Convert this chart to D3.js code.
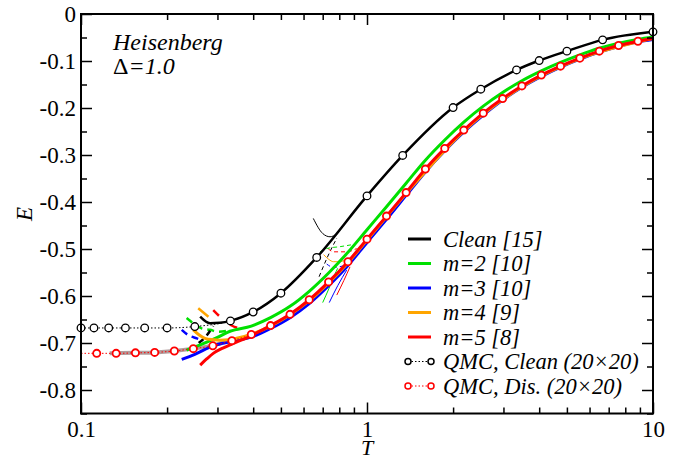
<!DOCTYPE html>
<html>
<head>
<meta charset="utf-8">
<script src="https://cdn.jsdelivr.net/npm/d3@7"></script>
<style>
  body { margin: 0; background: #fff; }
  svg text { font-family: "Liberation Serif", "Times New Roman", serif; fill: #000; }
  .tick text { font-size: 23px; }
  .it { font-style: italic; }
</style>
</head>
<body>
<div class="chart"></div>
<script>
// tick labels
var xMajor = [0.1, 1, 10];
var xMinor = [0.2, 0.3, 0.4, 0.5, 0.6, 0.7, 0.8, 0.9, 2, 3, 4, 5, 6, 7, 8, 9];
var yMajor = [0, -0.1, -0.2, -0.3, -0.4, -0.5, -0.6, -0.7, -0.8];
var yMinor = [-0.05, -0.15, -0.25, -0.35, -0.45, -0.55, -0.65, -0.75, -0.85];

// QMC clean (black circles)
var qmcCleanT = [0.1, 0.111, 0.125, 0.143, 0.167, 0.2, 0.25, 0.333, 0.4, 0.5, 0.667, 1, 1.333, 2, 2.5, 3.333, 4, 5, 6.667, 10];
var qmcCleanE = [-0.668, -0.668, -0.668, -0.668, -0.668, -0.668, -0.665, -0.653, -0.634, -0.594, -0.518, -0.387, -0.301, -0.199, -0.160, -0.119, -0.099, -0.079, -0.055, -0.038];

// QMC disordered (red circles)
var qmcDisT = [0.1135, 0.1327, 0.155, 0.181, 0.212, 0.247, 0.289, 0.337, 0.394, 0.46, 0.538, 0.628, 0.734, 0.858, 1.0, 1.17, 1.37, 1.6, 1.87, 2.18, 2.55, 2.98, 3.48, 4.07, 4.75, 5.55, 6.49, 7.58, 8.86];
var qmcDisE = [-0.722, -0.722, -0.721, -0.720, -0.717, -0.712, -0.706, -0.695, -0.682, -0.663, -0.639, -0.608, -0.570, -0.527, -0.479, -0.430, -0.380, -0.330, -0.286, -0.247, -0.211, -0.180, -0.153, -0.130, -0.111, -0.094, -0.079, -0.067, -0.058];

// Clean [15]
var cleanT = [0.261, 0.2825, 0.306, 0.333, 0.4, 0.5, 0.667, 1, 1.333, 2, 2.5, 3.333, 4, 5, 6.667, 10];
var cleanE = [-0.644, -0.658, -0.657, -0.653, -0.634, -0.594, -0.518, -0.387, -0.301, -0.199, -0.160, -0.119, -0.099, -0.079, -0.055, -0.038];

// m=2 [10]
var m2T = [0.234, 0.261, 0.30, 0.332, 0.394, 0.46, 0.538, 0.628, 0.734, 0.858, 1.0, 1.17, 1.37, 1.6, 1.87, 2.18, 2.55, 2.98, 3.48, 4.07, 4.75, 5.55, 6.49, 7.58, 8.86, 10];
var m2E = [-0.715, -0.704, -0.688, -0.675, -0.664, -0.646, -0.622, -0.590, -0.551, -0.507, -0.459, -0.410, -0.360, -0.311, -0.268, -0.230, -0.196, -0.167, -0.142, -0.121, -0.103, -0.087, -0.073, -0.062, -0.054, -0.049];

// m=3 [10]
var m3T = [0.225, 0.25, 0.29, 0.341, 0.40, 0.46, 0.538, 0.628, 0.734, 0.858, 1.0, 1.17, 1.37, 1.6, 1.87, 2.18, 2.55, 2.98, 3.48, 4.07, 4.75, 5.55, 6.49, 7.58, 8.86, 10];
var m3E = [-0.735, -0.724, -0.706, -0.696, -0.686, -0.669, -0.646, -0.616, -0.578, -0.535, -0.486, -0.437, -0.386, -0.336, -0.291, -0.251, -0.215, -0.183, -0.156, -0.133, -0.113, -0.096, -0.081, -0.069, -0.059, -0.054];

// m=4 [9]
var m4T = [0.247, 0.259, 0.2714, 0.29, 0.306, 0.33, 0.35, 0.3995, 0.46, 0.538, 0.628, 0.734, 0.858, 1.0, 1.37, 2.18, 3.48, 5.55, 10];
var m4E = [-0.672, -0.683, -0.690, -0.693, -0.694, -0.693, -0.690, -0.680, -0.664, -0.640, -0.610, -0.572, -0.529, -0.481, -0.382, -0.249, -0.155, -0.095, -0.052];

// m=5 [8]
var m5T = [0.261, 0.275, 0.29, 0.31, 0.332, 0.356, 0.38, 0.394, 0.46, 0.538, 0.628, 0.734, 0.858, 1.0, 1.17, 1.37, 1.6, 1.87, 2.18, 2.55, 2.98, 3.48, 4.07, 4.75, 5.55, 6.49, 7.58, 8.86, 10];
var m5E = [-0.747, -0.734, -0.722, -0.712, -0.704, -0.696, -0.689, -0.684, -0.663, -0.639, -0.608, -0.570, -0.527, -0.479, -0.430, -0.380, -0.330, -0.286, -0.247, -0.211, -0.180, -0.153, -0.130, -0.111, -0.094, -0.079, -0.067, -0.058, -0.052];

// grey low-T band
var greyT = [0.126, 0.155, 0.181, 0.212, 0.247, 0.289, 0.332];
var greyE = [-0.722, -0.721, -0.720, -0.717, -0.712, -0.705, -0.695];

// low-order approximants: [color, T, E, width, dash]
var extraCurves = [
  ["#00e000", [0.234, 0.247, 0.264, 0.2825, 0.301, 0.327], [-0.647, -0.658, -0.669, -0.672, -0.676, -0.674], 2.5, "7,5"],
  ["#0000ff", [0.225, 0.237, 0.254, 0.268], [-0.672, -0.683, -0.690, -0.695], 2.5, "7,5"],
  ["#ff0000", [0.29, 0.306, 0.33, 0.365, 0.39], [-0.630, -0.644, -0.660, -0.669, -0.669], 2.5, "8,14"],
  ["#000000", [0.258, 0.275, 0.29], [-0.700, -0.684, -0.664], 2.5, "6,5"],
  ["#ffa500", [0.257, 0.279], [-0.626, -0.644], 2.5, null],
  ["#000000", [0.649, 0.70, 0.7425, 0.784, 0.805], [-0.435, -0.467, -0.474, -0.467, -0.457], 1, null],
  ["#000000", [0.68, 0.73, 0.784], [-0.559, -0.515, -0.477], 1, "4,3"],
  ["#ff0000", [0.731, 0.763, 0.849, 0.92], [-0.499, -0.506, -0.506, -0.499], 1, "4,3"],
  ["#00e000", [0.685, 0.723, 0.805, 0.884], [-0.506, -0.499, -0.495, -0.491], 1, "4,3"],
  ["#ffa500", [0.705, 0.735, 0.763, 0.80, 0.849], [-0.512, -0.522, -0.527, -0.527, -0.522], 1, null],
  ["#0000ff", [0.723, 0.763, 0.826], [-0.532, -0.539, -0.536], 1, "4,3"],
  ["#00e000", [0.70, 0.735, 0.77, 0.79], [-0.614, -0.585, -0.555, -0.541], 1, null],
  ["#0000ff", [0.738, 0.79, 0.849], [-0.614, -0.578, -0.545], 1, null],
  ["#ff0000", [0.784, 0.83, 0.872], [-0.598, -0.567, -0.538], 1, null]
];

var legendNames = ["Clean [15]", "m=2 [10]", "m=3 [10]", "m=4 [9]", "m=5 [8]", "QMC, Clean (20\u00d720)", "QMC, Dis. (20\u00d720)"];
var legendColors = ["#000000", "#00e000", "#0000ff", "#ffa500", "#ff0000", "#000000", "#ff0000"];

makeChart();

function makeChart() {
  var svgWidth = 688, svgHeight = 460;
  var plotLeft = 81, plotRight = 653, plotTop = 14, plotBottom = 413.5;

  var svg = d3.select(".chart").append("svg")
    .attr("width", svgWidth)
    .attr("height", svgHeight);

  var xScale = d3.scaleLog().domain([0.1, 10]).range([plotLeft, plotRight]);
  var yScale = d3.scaleLinear().domain([-0.85, 0]).range([plotBottom, plotTop]);

  svg.append("clipPath").attr("id", "clip")
    .append("rect").attr("x", plotLeft).attr("y", plotTop)
    .attr("width", plotRight - plotLeft).attr("height", plotBottom - plotTop);

  var plot = svg.append("g").attr("clip-path", "url(#clip)");

  var line = d3.line()
    .x(d => xScale(d[0]))
    .y(d => yScale(d[1]))
    .curve(d3.curveMonotoneX);

  function drawCurve(T, E, color, width, dash) {
    plot.append("path")
      .datum(d3.zip(T, E))
      .attr("d", line)
      .attr("fill", "none")
      .attr("stroke", color)
      .attr("stroke-width", width)
      .attr("stroke-dasharray", dash)
      .attr("stroke-linecap", "butt");
  }

  // thin / low order curves first
  extraCurves.forEach(c => drawCurve(c[1], c[2], c[0], c[3], c[4]));

  drawCurve(greyT, greyE, "rgba(165,140,140,0.85)", 4, null);
  drawCurve(m2T, m2E, "#00e000", 3, null);
  drawCurve(m3T, m3E, "#0000ff", 3, null);
  drawCurve(m4T, m4E, "#ffa500", 3, null);
  drawCurve(m5T, m5E, "#ff0000", 3, null);
  drawCurve(cleanT, cleanE, "#000000", 2.5, null);

  // QMC dotted lines + circles
  var dis = d3.zip(qmcDisT, qmcDisE);
  plot.append("path")
    .datum([[0.1, qmcDisE[0]]].concat(dis))
    .attr("d", line)
    .attr("fill", "none")
    .attr("stroke", "#ff0000")
    .attr("stroke-width", 1)
    .attr("stroke-dasharray", "1.5,2");

  var clean = d3.zip(qmcCleanT, qmcCleanE);
  plot.append("path")
    .datum(clean)
    .attr("d", line)
    .attr("fill", "none")
    .attr("stroke", "#000")
    .attr("stroke-width", 1)
    .attr("stroke-dasharray", "1.5,2");

  svg.append("g").selectAll("circle")
    .data(clean)
    .enter()
    .append("circle")
    .attr("cx", d => xScale(d[0]))
    .attr("cy", d => yScale(d[1]))
    .attr("r", 3.8)
    .attr("fill", "#fff")
    .attr("stroke", "#000")
    .attr("stroke-width", 1.3);

  svg.append("g").selectAll("circle")
    .data(dis)
    .enter()
    .append("circle")
    .attr("cx", d => xScale(d[0]))
    .attr("cy", d => yScale(d[1]))
    .attr("r", 3.6)
    .attr("fill", "#fff")
    .attr("stroke", "#ff0000")
    .attr("stroke-width", 1.8);

  // axes
  function styleAxis(g) {
    g.select(".domain").remove();
    g.selectAll(".tick line").attr("stroke", "#000").attr("stroke-width", 1.5);
  }

  svg.append("g").attr("transform", `translate(0, ${plotBottom})`)
    .call(d3.axisBottom(xScale).tickValues(xMajor).tickSize(-11).tickPadding(7).tickFormat(d => d))
    .call(styleAxis);
  svg.append("g").attr("transform", `translate(0, ${plotBottom})`)
    .call(d3.axisBottom(xScale).tickValues(xMinor).tickSize(-6).tickFormat(""))
    .call(styleAxis);
  svg.append("g").attr("transform", `translate(0, ${plotTop})`)
    .call(d3.axisTop(xScale).tickValues(xMajor).tickSize(-11).tickFormat(""))
    .call(styleAxis);
  svg.append("g").attr("transform", `translate(0, ${plotTop})`)
    .call(d3.axisTop(xScale).tickValues(xMinor).tickSize(-6).tickFormat(""))
    .call(styleAxis);

  svg.append("g").attr("transform", `translate(${plotLeft}, 0)`)
    .call(d3.axisLeft(yScale).tickValues(yMajor).tickSize(-11).tickPadding(5)
      .tickFormat(d => d === 0 ? "0" : d3.format(".1f")(d).replace("\u2212", "-")))
    .call(styleAxis);
  svg.append("g").attr("transform", `translate(${plotLeft}, 0)`)
    .call(d3.axisLeft(yScale).tickValues(yMinor).tickSize(-6).tickFormat(""))
    .call(styleAxis);
  svg.append("g").attr("transform", `translate(${plotRight}, 0)`)
    .call(d3.axisRight(yScale).tickValues(yMajor).tickSize(-11).tickFormat(""))
    .call(styleAxis);
  svg.append("g").attr("transform", `translate(${plotRight}, 0)`)
    .call(d3.axisRight(yScale).tickValues(yMinor).tickSize(-6).tickFormat(""))
    .call(styleAxis);

  svg.append("rect")
    .attr("x", plotLeft).attr("y", plotTop)
    .attr("width", plotRight - plotLeft).attr("height", plotBottom - plotTop)
    .attr("fill", "none").attr("stroke", "#000").attr("stroke-width", 2);

  // axis titles
  svg.append("text").attr("class", "it")
    .attr("x", 367).attr("y", 455)
    .attr("text-anchor", "middle").style("font-size", "22px")
    .text("T");
  svg.append("text").attr("class", "it")
    .attr("transform", "translate(32, 214) rotate(-90)")
    .attr("text-anchor", "middle").style("font-size", "23px")
    .text("E");

  // annotation
  svg.append("text").attr("class", "it")
    .attr("x", 113).attr("y", 50).style("font-size", "24px")
    .text("Heisenberg");
  var delta = svg.append("text").attr("x", 113).attr("y", 74).style("font-size", "24px");
  delta.append("tspan").text("\u0394");
  delta.append("tspan").attr("class", "it").text("=1.0");

  // legend
  var legend = svg.append("g");
  legendNames.forEach(function(name, i) {
    var cy = 239 + i * 24.5;
    var row = legend.append("g");
    if (i < 5) {
      row.append("line")
        .attr("x1", 408).attr("x2", 431).attr("y1", cy).attr("y2", cy)
        .attr("stroke", legendColors[i]).attr("stroke-width", 3);
    } else {
      row.append("line")
        .attr("x1", 408).attr("x2", 431).attr("y1", cy).attr("y2", cy)
        .attr("stroke", legendColors[i]).attr("stroke-width", 1)
        .attr("stroke-dasharray", "1.5,2");
      [408, 431].forEach(function(cx) {
        row.append("circle")
          .attr("cx", cx).attr("cy", cy).attr("r", 3)
          .attr("fill", "#fff").attr("stroke", legendColors[i]).attr("stroke-width", 1.5);
      });
    }
    row.append("text").attr("class", "it")
      .attr("x", 443).attr("y", cy + 7.5)
      .style("font-size", "22.5px")
      .text(name);
  });
}
</script>
</body>
</html>
